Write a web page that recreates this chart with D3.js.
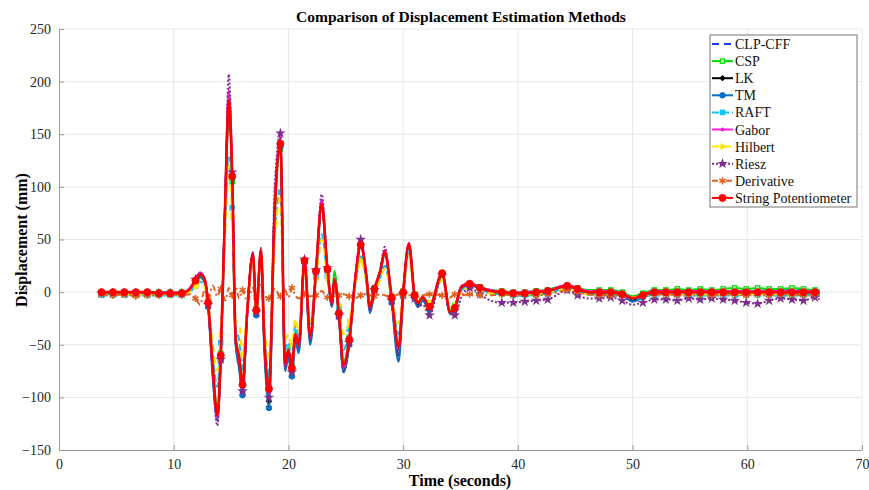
<!DOCTYPE html>
<html>
<head>
<meta charset="utf-8">
<script src="https://cdn.jsdelivr.net/npm/d3@7"></script>
<style>
  body { margin: 0; background: #fff; }
  svg text { font-family: "Liberation Serif", "Times New Roman", serif; }
</style>
</head>
<body>
<div id="chart"></div>
<script>
// chart data
const time = [
  3.7, 4.7, 5.7, 6.7, 7.7, 8.7, 9.7, 10.7, 11.4, 11.9,
  12.3, 12.7, 13.0, 13.4, 13.8, 14.1, 14.5, 14.8, 15.1, 15.4,
  15.7, 16.0, 16.4, 16.9, 17.2, 17.6, 17.9, 18.3, 18.8, 19.3,
  19.7, 20.0, 20.3, 20.6, 20.9, 21.4, 21.9, 22.4, 22.9, 23.4,
  23.8, 24.0, 24.4, 24.8, 25.3, 25.8, 26.3, 26.8, 27.1, 27.5,
  28.0, 28.4, 29.0, 29.6, 30.0, 30.5, 31.0, 31.3, 31.7, 32.3,
  33.4, 34.1, 34.5, 35.1, 35.8, 36.7, 37.6, 38.6, 39.6, 40.6,
  41.6, 42.6, 43.5, 44.3, 45.2, 46.1, 47.1, 48.1, 49.1, 50.0,
  50.9, 51.9, 52.9, 53.9, 54.9, 55.9, 56.9, 57.9, 58.9, 59.9,
  60.9, 61.9, 62.9, 63.9, 64.9, 65.9, 66.3
];

const clpCff = [
  0, 0, 0, 0, 0, 0, 0, 0, 3, 12,
  18, 12, -10, -72, -120, -62, 92, 188, 110, -46,
  -64, -92, -20, 37, -18, 40, -47, -98, 80, 145,
  -70, -57, -75, -42, -52, 30, -44, 20, 86, 22,
  -11, 12, -21, -72, -46, 10, 46, 15, -15, 3,
  20, 39, -6, -56, -1, 46, -3, -11, -5, -15,
  18, -19, -14, 6, 9, 5, 2, 1, 0, 0,
  1, 2, 5, 6, 4, 1, 1, 1, -1, -5,
  -2, 1, 1, 1, 1, 1, 1, 1, 1, 1,
  1, 2, 2, 2, 2, 2, 2
];

const csp = [
  0, 0, 0, 0, 0, 0, 0, 0, 2, 9,
  14, 10, -10, -68, -112, -58, 85, 175, 105, -42,
  -60, -85, -18, 35, -16, 38, -44, -90, 70, 136,
  -66, -53, -70, -38, -48, 29, -40, 19, 82, 21,
  -8, 20, -18, -66, -43, 10, 44, 14, -13, 4,
  20, 37, -4, -50, 1, 45, -2, -9, -4, -12,
  18, -17, -13, 6, 8, 5, 2, 1, 0, 0,
  1, 2, 5, 6, 4, 2, 2, 2, 0, -4,
  -1, 2, 2, 3, 2, 3, 2, 3, 4, 3,
  4, 3, 3, 4, 3, 2, 2
];

const lk = [
  -1, -1, -1, -1, -1, -1, -1, -1, 2, 10,
  16, 10, -12, -76, -120, -62, 90, 176, 108, -48,
  -68, -95, -21, 36, -20, 38, -50, -104, 83, 140,
  -72, -58, -76, -44, -54, 28, -46, 19, 82, 21,
  -12, 11, -22, -76, -48, 9, 45, 14, -17, 1,
  19, 37, -8, -60, -2, 45, -4, -12, -6, -16,
  17, -20, -16, 4, 8, 4, 1, -1, -2, -2,
  -1, 0, 3, 5, 3, -1, -1, -1, -2, -8,
  -4, -1, -1, -1, -1, -1, -1, -1, -1, -1,
  -1, -1, -1, -1, -1, -1, -1
];

const tm = [
  -2, -2, -2, -2, -2, -2, -2, -2, 1, 9,
  15, 9, -14, -80, -122, -65, 88, 190, 108, -50,
  -72, -98, -22, 37, -22, 38, -55, -110, 78, 138,
  -75, -62, -80, -46, -58, 28, -50, 18, 82, 20,
  -14, 10, -24, -76, -50, 8, 44, 12, -20, 0,
  18, 36, -10, -66, -4, 44, -6, -14, -8, -17,
  16, -21, -17, 3, 7, 3, 0, -2, -3, -3,
  -2, -1, 2, 5, 2, -2, -2, -2, -3, -9,
  -5, -2, -2, -2, -2, -2, -2, -2, -2, -2,
  -2, -2, -2, -2, -2, -2, -2
];

const raft = [
  -3, -3, -3, -3, -3, -3, -3, -3, 0, 6,
  10, 6, -12, -60, -90, -48, 68, 128, 80, -35,
  -45, -72, -18, 30, -15, 32, -36, -80, 55, 95,
  -55, -48, -62, -32, -45, 22, -32, 14, 55, 15,
  -9, 6, -16, -55, -35, 4, 32, 10, -12, 0,
  14, 25, -6, -40, -4, 38, -5, -10, -6, -12,
  13, -18, -15, 2, 5, 2, -1, -2, -3, -3,
  -3, -2, 2, 4, 1, -2, -3, -3, -3, -6,
  -4, -3, -3, -3, -3, -3, -3, -3, -3, -3,
  -3, -3, -3, -3, -3, -3, -3
];

const gabor = [
  0, 0, 0, 0, 0, 0, 0, 0, 4, 13,
  19, 13, -11, -74, -120, -62, 94, 192, 112, -46,
  -64, -90, -20, 37, -18, 41, -46, -96, 82, 148,
  -70, -56, -74, -41, -51, 31, -43, 21, 88, 23,
  -10, 13, -20, -72, -46, 11, 49, 16, -15, 4,
  21, 40, -5, -55, 0, 47, -3, -10, -4, -14,
  19, -19, -14, 6, 9, 5, 2, 0, 0, 0,
  1, 1, 5, 7, 4, 1, 1, 1, -1, -5,
  -2, 1, 1, 1, 1, 1, 1, 1, 1, 1,
  1, 1, 1, 1, 1, 1, 1
];

const hilbert = [
  -2, -2, -2, -2, -2, -2, -2, -2, 0, 5,
  9, 5, -10, -50, -75, -40, 60, 120, 72, -28,
  -30, -60, -15, 28, -12, 30, -30, -60, 48, 88,
  -45, -40, -50, -25, -38, 20, -28, 12, 50, 13,
  -7, 5, -12, -40, -28, 3, 30, 9, -10, 0,
  12, 22, -5, -30, -2, 35, -4, -8, -5, -10,
  12, -15, -12, 1, 4, 2, -1, -2, -2, -2,
  -2, -1, 2, 3, 1, -2, -2, -2, -2, -5,
  -3, -2, -2, -2, -2, -2, -2, -2, -2, -2,
  -2, -2, -2, -2, -2, -2, -2
];

const riesz = [
  -1, -1, -1, -1, -1, -1, -1, -1, 3, 12,
  18, 12, -12, -78, -127, -64, 96, 207, 114, -48,
  -66, -94, -21, 38, -19, 42, -48, -100, 100, 151,
  -72, -58, -76, -42, -54, 31, -45, 21, 93, 23,
  -13, 12, -22, -75, -48, 12, 50, 14, -18, 2,
  21, 43, -8, -58, -2, 45, -6, -14, -12, -22,
  16, -20, -22, -4, 4, -2, -8, -10, -10, -9,
  -8, -7, -2, 2, -3, -6, -6, -5, -8, -12,
  -10, -7, -7, -8, -6, -7, -6, -7, -8, -10,
  -11, -8, -6, -7, -8, -5, -7
];

const derivative = [
  -2, -3, -2, -4, -3, -3, -2, -3, -2, -6,
  -12, 2, -5, 6, -4, 3, -8, 4, -3, 5,
  -6, 2, -9, 4, -5, 7, -3, -6, 3, -4,
  2, -5, 4, -3, -6, -2, -4, -3, 1, -5,
  -2, -4, -3, -2, -4, -6, -3, -2, -3, -4,
  -2, -3, -5, -2, -4, -3, -2, -4, -3, -2,
  -3, -5, -2, -3, -2, -3, -3, -2, -3, -2,
  -3, -2, 0, 2, 0, -2, -3, -3, -3, -5,
  -3, -2, -2, -3, -2, -2, -3, -2, -2, -3,
  -2, -3, -2, -2, -3, -2, -2
];

const stringPot = [
  0, 0, 0, 0, 0, -1, -1, -1, 3, 11,
  17, 12, -10, -70, -117, -60, 90, 182, 110, -45,
  -62, -88, -20, 36, -17, 40, -45, -92, 76, 141,
  -68, -55, -72, -40, -50, 30, -42, 20, 84, 22,
  -10, 12, -20, -69, -45, 10, 45, 15, -14, 3,
  20, 38, -5, -52, 0, 46, -3, -10, -5, -14,
  18, -19, -15, 5, 8, 4, 1, 0, -1, -1,
  0, 1, 4, 6, 3, 0, 0, 0, -2, -6,
  -3, 0, 0, 0, 0, 0, 0, 0, 0, 0,
  0, 0, 0, 0, 0, 0, 0
];

const xTicks = [0, 10, 20, 30, 40, 50, 60, 70];
const yTicks = [-150, -100, -50, 0, 50, 100, 150, 200, 250];

// series table (draw order = legend order, last on top)
const series = [
  { name: "CLP-CFF", values: clpCff, color: "#1f3bff", dash: "7,5", marker: null, w: 2 },
  { name: "CSP", values: csp, color: "#00dd00", dash: null, marker: "square-open", w: 2 },
  { name: "LK", values: lk, color: "#000000", dash: null, marker: "diamond", w: 2 },
  { name: "TM", values: tm, color: "#0a6fc0", dash: null, marker: "circle", w: 2.2 },
  { name: "RAFT", values: raft, color: "#14c3ee", dash: "7,3", marker: "square", w: 2.2 },
  { name: "Gabor", values: gabor, color: "#ff1fe0", dash: null, marker: "dot", w: 2 },
  { name: "Hilbert", values: hilbert, color: "#ffe400", dash: "7,5", marker: "triangle", w: 2.2 },
  { name: "Riesz", values: riesz, color: "#7e2f8e", dash: "2,2", marker: "star", w: 2 },
  { name: "Derivative", values: derivative, color: "#e0601c", dash: "6,3,2,3", marker: "asterisk", w: 2 },
  { name: "String Potentiometer", values: stringPot, color: "#ff0000", dash: null, marker: "circle-big", w: 2.6 }
];

const width = 869, height = 490;
const x = d3.scaleLinear().domain([0, 70]).range([59, 862]);
const y = d3.scaleLinear().domain([-150, 250]).range([450, 29]);

const svg = d3.select("#chart").append("svg")
  .attr("width", width)
  .attr("height", height);

// grid lines
svg.append("g").selectAll("line.gx")
  .data(xTicks.slice(1))
  .join("line")
  .attr("x1", d => x(d)).attr("x2", d => x(d))
  .attr("y1", y(-150)).attr("y2", y(250))
  .attr("stroke", "#e8e8e8");
svg.append("g").selectAll("line.gy")
  .data(yTicks.slice(1))
  .join("line")
  .attr("x1", x(0)).attr("x2", x(70))
  .attr("y1", d => y(d)).attr("y2", d => y(d))
  .attr("stroke", "#e8e8e8");

// axes, ticks pointing inward like matlab
const xAxis = svg.append("g")
  .attr("transform", `translate(0,${y(-150)})`)
  .call(d3.axisBottom(x).tickValues(xTicks).tickSizeInner(-5).tickSizeOuter(0).tickPadding(9));
const yAxis = svg.append("g")
  .attr("transform", `translate(${x(0)},0)`)
  .call(d3.axisLeft(y).tickValues(yTicks).tickSizeInner(-5).tickSizeOuter(0).tickPadding(8));
[xAxis, yAxis].forEach(a => {
  a.attr("font-family", null);
  a.select(".domain").attr("stroke", "#9a9a9a");
  a.selectAll(".tick line").attr("stroke", "#9a9a9a");
  a.selectAll(".tick text")
    .attr("fill", "#262626")
    .style("font-size", "14px")
    .style("font-family", "'Liberation Serif', serif");
});

// clip the lines to the axes box
svg.append("clipPath").attr("id", "plotClip")
  .append("rect")
  .attr("x", x(0)).attr("y", y(250) - 6)
  .attr("width", x(70) - x(0)).attr("height", y(-150) - y(250) + 6);

const line = d3.line()
  .x((d, i) => x(time[i]))
  .y(d => y(d))
  .curve(d3.curveMonotoneX);

// marker shapes
function drawMarker(g, type, color, cx, cy) {
  if (!type) return;
  if (type === "circle" || type === "circle-big") {
    g.append("circle").attr("cx", cx).attr("cy", cy)
      .attr("r", type === "circle" ? 2.8 : 3.5)
      .attr("fill", color).attr("stroke", color);
  } else if (type === "dot") {
    g.append("circle").attr("cx", cx).attr("cy", cy).attr("r", 2).attr("fill", color);
  } else if (type === "square" || type === "square-open") {
    g.append("rect").attr("x", cx - 2.2).attr("y", cy - 2.2)
      .attr("width", 4.4).attr("height", 4.4)
      .attr("fill", type === "square" ? color : "#c8f5c8")
      .attr("stroke", color).attr("stroke-width", 1.2);
  } else if (type === "diamond") {
    g.append("path").attr("transform", `translate(${cx},${cy}) rotate(45)`)
      .attr("d", d3.symbol(d3.symbolSquare, 20)()).attr("fill", color);
  } else if (type === "triangle") {
    g.append("path").attr("transform", `translate(${cx},${cy}) rotate(90)`)
      .attr("d", d3.symbol(d3.symbolTriangle, 22)()).attr("fill", color);
  } else if (type === "star") {
    g.append("path").attr("transform", `translate(${cx},${cy})`)
      .attr("d", d3.symbol(d3.symbolStar, 36)()).attr("fill", color);
  } else if (type === "asterisk") {
    g.append("path").attr("transform", `translate(${cx},${cy})`)
      .attr("d", d3.symbol(d3.symbolAsterisk, 36)())
      .attr("fill", "none").attr("stroke", color).attr("stroke-width", 1.5);
  }
}

// pick samples roughly 1 s apart for markers
function markerIndices() {
  const idx = [];
  let last = -Infinity;
  time.forEach((t, i) => {
    if (t - last >= 0.9) { idx.push(i); last = t; }
  });
  return idx;
}
const mIdx = markerIndices();

const plot = svg.append("g").attr("clip-path", "url(#plotClip)");
series.forEach(s => {
  plot.append("path")
    .datum(s.values)
    .attr("d", line)
    .attr("fill", "none")
    .attr("stroke", s.color)
    .attr("stroke-width", s.w)
    .attr("stroke-dasharray", s.dash)
    .attr("stroke-linejoin", "round");
  const mg = plot.append("g");
  mIdx.forEach(i => drawMarker(mg, s.marker, s.color, x(time[i]), y(s.values[i])));
});

// title and axis labels
svg.append("text")
  .attr("x", 461).attr("y", 22)
  .attr("text-anchor", "middle")
  .style("font-size", "15.5px").style("font-weight", "bold")
  .text("Comparison of Displacement Estimation Methods");
svg.append("text")
  .attr("x", 460).attr("y", 486)
  .attr("text-anchor", "middle")
  .style("font-size", "16px").style("font-weight", "bold")
  .text("Time (seconds)");
svg.append("text")
  .attr("transform", "translate(27,240) rotate(-90)")
  .attr("text-anchor", "middle")
  .style("font-size", "16px").style("font-weight", "bold")
  .text("Displacement (mm)");

// legend
const legend = svg.append("g");
legend.append("rect")
  .attr("x", 710).attr("y", 35)
  .attr("width", 147).attr("height", 172)
  .attr("fill", "#fff").attr("stroke", "#777").attr("stroke-width", 1);
series.forEach((s, i) => {
  const ly = 44 + i * 17.1;
  legend.append("line")
    .attr("x1", 712).attr("x2", 733)
    .attr("y1", ly).attr("y2", ly)
    .attr("stroke", s.color).attr("stroke-width", 2)
    .attr("stroke-dasharray", s.dash);
  drawMarker(legend, s.marker, s.color, 722.5, ly);
  legend.append("text")
    .attr("x", 735).attr("y", ly + 5)
    .style("font-size", "14px")
    .attr("fill", "#111")
    .text(s.name);
});
</script>
</body>
</html>
